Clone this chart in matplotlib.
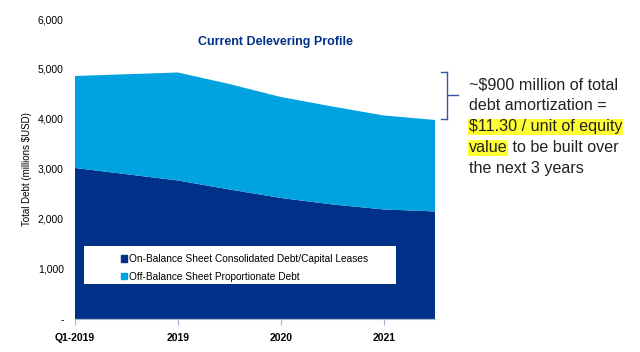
import matplotlib
matplotlib.use("Agg")
import matplotlib.pyplot as plt
from matplotlib.patches import Patch, Rectangle

plt.rcParams['font.family'] = ['Liberation Sans', 'DejaVu Sans']

# data (x position in years from Q1-2019, quarterly steps in between)
x_pos = [0, 1, 1.5, 2, 2.5, 3, 3.5]
on_balance = [3020, 2770, 2590, 2420, 2290, 2190, 2150]
off_balance = [1840, 2160, 2110, 2020, 1960, 1880, 1830]
tick_pos = [0, 1, 2, 3]
tick_labels = ["Q1-2019", "2019", "2020", "2021"]
series_names = ["On-Balance Sheet Consolidated Debt/Capital Leases",
                "Off-Balance Sheet Proportionate Debt"]

navy = "#003087"
light = "#00A3E0"
W, H = 640, 352

fig = plt.figure(figsize=(6.4, 3.52), dpi=100)
ax = fig.add_axes([0.117, 0.094, 0.563, 0.852])

ax.stackplot(x_pos, on_balance, off_balance, colors=[navy, light], linewidth=0)
ax.set_xlim(0, 3.5)
ax.set_ylim(0, 6000)

ax.set_yticks([0, 1000, 2000, 3000, 4000, 5000, 6000])
ax.set_yticklabels(["-", "1,000", "2,000", "3,000", "4,000", "5,000", "6,000"], fontsize=7.5)
ax.tick_params(axis='y', length=0, pad=8)
ax.set_xticks(tick_pos)
ax.set_xticklabels(tick_labels, fontsize=7.5, fontweight='bold')
ax.tick_params(axis='x', length=4, color="#a6b4d0", pad=6)

for s in ["top", "right", "left"]:
    ax.spines[s].set_visible(False)
ax.spines["bottom"].set_color("#a6b4d0")

ax.set_ylabel("Total Debt (millions $USD)", fontsize=7, labelpad=4)

fig.text(0.43, 1-42/H, "Current Delevering Profile", color=navy, fontsize=9,
         fontweight='bold', ha='center', va='center')

# legend box (white panel) and entries
fig.add_artist(Rectangle((84/W, 1-284/H), (396-84)/W, (284-246)/H,
                         facecolor="white", edgecolor="none", zorder=3))
handles = [Patch(color=navy), Patch(color=light)]
leg = fig.legend(handles, series_names, loc='upper left', bbox_to_anchor=(114/W, 1-247/H),
                 fontsize=7.3, frameon=False, handlelength=0.6, handleheight=0.6,
                 handletextpad=0.2, borderpad=0.2, labelspacing=0.75)
leg.set_zorder(4)

# bracket
bc = "#3a56a8"
fig.add_artist(plt.Line2D([447/W, 447/W], [1-72/H, 1-119/H], color=bc, lw=1))
fig.add_artist(plt.Line2D([441/W, 447/W], [1-72/H, 1-72/H], color=bc, lw=1))
fig.add_artist(plt.Line2D([441/W, 447/W], [1-119/H, 1-119/H], color=bc, lw=1))
fig.add_artist(plt.Line2D([447/W, 458/W], [1-95/H, 1-95/H], color=bc, lw=1))

# annotation text
tx = 469/W
fs = 11.6
lines_y = [85, 106, 127, 148, 169]
fig.text(tx, 1-lines_y[0]/H, "~$900 million of total", fontsize=fs, va='center', color="#222222")
fig.text(tx, 1-lines_y[1]/H, "debt amortization =", fontsize=fs, va='center', color="#222222")
fig.text(tx, 1-lines_y[2]/H, "$11.30 / unit of equity", fontsize=fs, va='center', color="#222222",
         bbox=dict(facecolor="#ffff33", edgecolor='none', pad=0.5))
t_val = fig.text(tx, 1-lines_y[3]/H, "value", fontsize=fs, va='center', color="#222222",
                 bbox=dict(facecolor="#ffff33", edgecolor='none', pad=0.5))
fig.text(tx, 1-lines_y[4]/H, "the next 3 years", fontsize=fs, va='center', color="#222222")

fig.canvas.draw()
ext = t_val.get_window_extent(renderer=fig.canvas.get_renderer())
fig.text(ext.x1 / fig.bbox.width, 1-lines_y[3]/H, " to be built over", fontsize=fs,
         va='center', color="#222222")

fig.savefig("out.png", dpi=100)
